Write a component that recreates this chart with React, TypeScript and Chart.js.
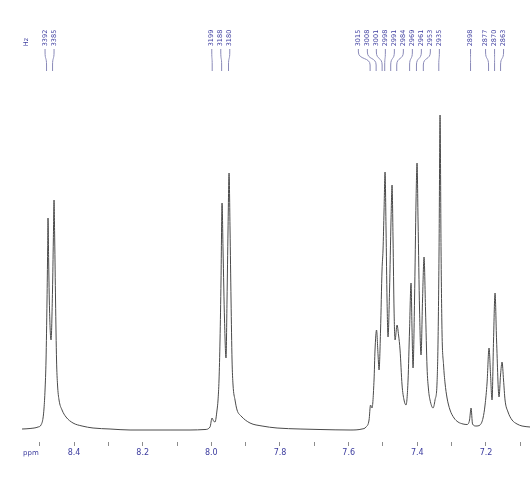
import React, { useEffect, useRef } from "react";
import { Chart, registerables } from "chart.js";

Chart.register(...registerables);

// Chemical shifts (ppm) of the traced spectrum, left to right
const shiftPpm: number[] = [
  8.5514, 8.5281, 8.5048, 8.4961, 8.4902, 8.4873, 8.4844, 8.4815, 8.4786, 8.4768,
  8.4757, 8.4739, 8.4713, 8.4669, 8.4626, 8.4602, 8.4582, 8.4562, 8.4538, 8.4509,
  8.448, 8.4436, 8.4349, 8.4233, 8.4029, 8.3766, 8.3446, 8.2951, 8.2368, 8.1786,
  8.1203, 8.0621, 8.0184, 8.0038, 7.998, 7.9936, 7.9892, 7.9834, 7.9805, 7.9776,
  7.9747, 7.9718, 7.9688, 7.9659, 7.9616, 7.9572, 7.9543, 7.9514, 7.9484, 7.9455,
  7.9426, 7.9397, 7.9368, 7.931, 7.9251, 7.9135, 7.8873, 7.8523, 7.8086, 7.7416,
  7.6834, 7.596, 7.561, 7.5494, 7.5406, 7.5363, 7.5319, 7.5261, 7.5232, 7.5188,
  7.5144, 7.5115, 7.5071, 7.5028, 7.4999, 7.4969, 7.494, 7.4911, 7.4882, 7.4853,
  7.4809, 7.4766, 7.4736, 7.4707, 7.4678, 7.4649, 7.4591, 7.4547, 7.4503, 7.4445,
  7.4387, 7.4329, 7.427, 7.4227, 7.4183, 7.4154, 7.4125, 7.4081, 7.4037, 7.4008,
  7.3979, 7.3935, 7.3892, 7.3848, 7.3804, 7.3761, 7.3717, 7.3673, 7.363, 7.3542,
  7.3484, 7.3426, 7.3396, 7.3367, 7.3338, 7.3309, 7.328, 7.3236, 7.3193, 7.3134,
  7.3047, 7.293, 7.2814, 7.2668, 7.2552, 7.2479, 7.2435, 7.2392, 7.229, 7.2173,
  7.2086, 7.2027, 7.1969, 7.1911, 7.1867, 7.1824, 7.178, 7.1736, 7.1692, 7.162,
  7.1576, 7.1532, 7.1489, 7.1445, 7.1358, 7.1241, 7.1095, 7.095, 7.0717,
];

// Intensity (arbitrary units) at each shift
const intensity: number[] = [
  1, 1.5, 3, 5, 12, 22, 40, 70, 130, 180,
  212, 170, 120, 90, 140, 190, 230, 190, 130, 70,
  45, 30, 20, 13, 7, 4, 2, 1, 0, 0,
  0, 0, 0.5, 3, 12, 9, 8, 20, 30, 50,
  90, 150, 227, 180, 110, 72, 130, 200, 257, 200,
  130, 70, 45, 30, 20, 14, 7, 4, 2, 1,
  0.5, 0, 1, 3, 10, 25, 22, 50, 80, 100,
  75, 60, 100, 160, 180, 220, 258, 200, 130, 93,
  140, 210, 245, 190, 120, 90, 105, 95, 80, 45,
  30, 25, 50, 100, 147, 100, 62, 130, 230, 267,
  210, 120, 75, 130, 173, 120, 63, 40, 30, 22,
  30, 47, 90, 180, 315, 180, 97, 65, 47, 32,
  20, 12, 8, 6, 5.5, 10, 22, 6, 4, 5,
  12, 25, 47, 82, 55, 30, 90, 137, 90, 33,
  55, 68, 50, 30, 18, 10, 6, 4, 3,
];

// Peak annotations, in Hz, and the spectrometer frequency (MHz)
const peakHz: number[] = [
  3392, 3385, 3199, 3188, 3180, 3015, 3008, 3001, 2998, 2991, 2984, 2969, 2961,
  2953, 2935, 2898, 2877, 2870, 2863,
];
const spectrometerMHz = 400;

// Axis ticks (ppm)
const minorTicks: number[] = [8.5, 8.4, 8.3, 8.2, 8.1, 8.0, 7.9, 7.8, 7.7, 7.6, 7.5, 7.4, 7.3, 7.2, 7.1];
const labeledTicks: number[] = [8.4, 8.2, 8.0, 7.8, 7.6, 7.4, 7.2];

const BLUE = "#3b3b9e";

function spreadLabels(xs: number[], gap: number): number[] {
  type G = { n: number; sum: number; start: number };
  let groups: G[] = xs.map((x) => ({ n: 1, sum: x, start: x }));
  let changed = true;
  while (changed) {
    changed = false;
    for (let i = 0; i < groups.length - 1; i++) {
      const a = groups[i];
      const b = groups[i + 1];
      const aEnd = a.start + (a.n - 1) * gap;
      if (b.start - aEnd < gap) {
        const n = a.n + b.n;
        const sum = a.sum + b.sum;
        groups.splice(i, 2, { n, sum, start: sum / n - ((n - 1) * gap) / 2 });
        changed = true;
        break;
      }
    }
  }
  const out: number[] = [];
  groups.forEach((g) => {
    for (let k = 0; k < g.n; k++) out.push(g.start + k * gap);
  });
  return out;
}

const annotationPlugin = {
  id: "nmrAnnotations",
  afterDraw(chart: any) {
    const ctx = chart.ctx as CanvasRenderingContext2D;
    const xs = chart.scales.x;
    const area = chart.chartArea;
    const peakX = peakHz.map((hz) => xs.getPixelForValue(hz / spectrometerMHz));
    const labelX = spreadLabels(peakX, 9);
    ctx.save();
    // leader lines
    ctx.strokeStyle = "#8a8ab8";
    ctx.lineWidth = 1;
    peakX.forEach((px, i) => {
      const lx = labelX[i];
      ctx.beginPath();
      ctx.moveTo(lx, 49);
      ctx.lineTo(lx, 52);
      ctx.bezierCurveTo(lx, 60, px, 57, px, 65);
      ctx.lineTo(px, 71);
      ctx.stroke();
    });
    // labels
    ctx.fillStyle = BLUE;
    ctx.font = "6.5px 'DejaVu Sans'";
    ctx.textAlign = "center";
    ctx.textBaseline = "middle";
    const drawV = (text: string, x: number, y: number) => {
      ctx.save();
      ctx.translate(x, y);
      ctx.rotate(-Math.PI / 2);
      ctx.fillText(text, 0, 0);
      ctx.restore();
    };
    peakHz.forEach((hz, i) => drawV(String(hz), labelX[i], 38));
    drawV("Hz", 26, 42);
    // ppm unit label
    ctx.font = "7px 'DejaVu Sans'";
    ctx.textAlign = "left";
    ctx.fillText("ppm", area.left + 1, 453);
    ctx.restore();
  },
};

export default function App() {
  const ref = useRef<HTMLCanvasElement | null>(null);
  useEffect(() => {
    if (!ref.current) return;
    const data = shiftPpm.map((x, i) => ({ x, y: intensity[i] }));
    const chart = new Chart(ref.current, {
      type: "line",
      data: {
        datasets: [
          {
            data,
            borderColor: "#4a4a4a",
            borderWidth: 1,
            pointRadius: 0,
            fill: false,
            cubicInterpolationMode: "monotone",
          },
        ],
      },
      options: {
        animation: false,
        responsive: false,
        parsing: true,
        layout: { padding: { left: 22, right: 0, top: 100, bottom: 0 } },
        plugins: { legend: { display: false }, tooltip: { enabled: false } },
        scales: {
          x: {
            type: "linear",
            reverse: true,
            min: 7.0718,
            max: 8.5515,
            afterBuildTicks: (scale: any) => {
              scale.ticks = minorTicks.map((v) => ({ value: v }));
            },
            afterFit: (scale: any) => {
              scale.height = 38;
            },
            border: { display: false },
            grid: {
              drawOnChartArea: false,
              drawTicks: true,
              tickLength: 4,
              tickColor: "#8c8c8c",
              tickWidth: 1,
            },
            ticks: {
              autoSkip: false,
              maxRotation: 0,
              minRotation: 0,
              padding: 2,
              color: BLUE,
              font: { family: "'DejaVu Sans'", size: 8 },
              callback: (v: any) => {
                const val = Number(v);
                return labeledTicks.some((t) => Math.abs(t - val) < 1e-6) ? val.toFixed(1) : "";
              },
            },
          },
          y: {
            display: false,
            min: -12,
            max: 330,
          },
        },
      },
      plugins: [annotationPlugin],
    });
    return () => chart.destroy();
  }, []);
  return (
    <div style={{ position: "absolute", left: 0, top: 0, width: 530, height: 480, background: "#fff" }}>
      <canvas ref={ref} width={530} height={480} />
    </div>
  );
}
